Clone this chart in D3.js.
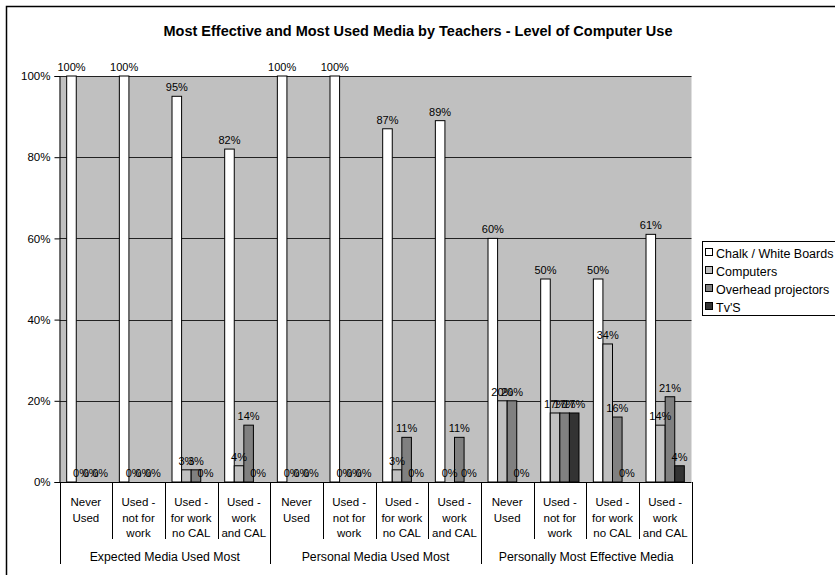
<!DOCTYPE html>
<html>
<head>
<meta charset="utf-8">
<script src="https://cdn.jsdelivr.net/npm/d3@7"></script>
<style>
  html, body { margin: 0; padding: 0; background: #fff; }
  svg { display: block; font-family: "Liberation Sans", Arial, sans-serif; }
</style>
</head>
<body>
<svg id="chart" width="835" height="575"></svg>
<script>
// Survey data: share of teachers per medium, by level of computer use
const groups = ["Expected Media Used Most", "Personal Media Used Most", "Personally Most Effective Media"];
const levels = [["Never", "Used"], ["Used -", "not for", "work"], ["Used -", "for work", "no CAL"], ["Used -", "work", "and CAL"]];
const series = ["Chalk / White Boards", "Computers", "Overhead projectors", "Tv'S"];
const seriesColors = ["#ffffff", "#c0c0c0", "#808080", "#333333"];
const yTicks = [0, 20, 40, 60, 80, 100];

// One value per category (group × level), in the order of the categories
const chalk     = [100, 100, 95, 82, 100, 100, 87, 89, 60, 50, 50, 61];
const computers = [0, 0, 3, 4, 0, 0, 3, 0, 20, 17, 34, 14];
const overhead  = [0, 0, 3, 14, 0, 0, 11, 11, 20, 17, 16, 21];
const tvs       = [0, 0, 0, 0, 0, 0, 0, 0, 0, 17, 0, 4];
const seriesValues = [chalk, computers, overhead, tvs];

const svg = d3.select("#chart");
const W = 835, H = 575;
const plot = { left: 59.5, right: 691.5, top: 76, bottom: 482 };

// Outer chart frame
svg.append("rect").attr("x", 6.5).attr("y", 6.5).attr("width", W).attr("height", H)
  .attr("fill", "#fff").attr("stroke", "#000").attr("stroke-width", 1.5);

// Title
svg.append("text").attr("x", 418).attr("y", 36).attr("text-anchor", "middle")
  .attr("font-size", 14.5).attr("font-weight", "bold").text("Most Effective and Most Used Media by Teachers - Level of Computer Use");

const categories = d3.range(groups.length * levels.length);
const x0 = d3.scaleBand().domain(categories).range([plot.left, plot.right]).padding(0);
const x1 = d3.scaleBand().domain(d3.range(series.length)).range([0, x0.bandwidth()])
  .paddingInner(0).paddingOuter(0.75);
const y = d3.scaleLinear().domain([0, 100]).range([plot.bottom, plot.top]);

// Plot background and gridlines
svg.append("rect").attr("x", plot.left).attr("y", plot.top)
  .attr("width", plot.right - plot.left).attr("height", plot.bottom - plot.top).attr("fill", "#c0c0c0");
svg.append("g").selectAll("line").data(yTicks.filter(t => t > 0)).join("line")
  .attr("x1", plot.left).attr("x2", plot.right)
  .attr("y1", d => Math.round(y(d)) + 0.5).attr("y2", d => Math.round(y(d)) + 0.5)
  .attr("stroke", "#222").attr("stroke-width", 1);

// Bars
const barData = [];
categories.forEach(c => series.forEach((s, si) => barData.push({ c, si, v: seriesValues[si][c] })));
svg.append("g").selectAll("rect").data(barData).join("rect")
  .attr("x", d => x0(d.c) + x1(d.si))
  .attr("y", d => y(d.v))
  .attr("width", x1.bandwidth())
  .attr("height", d => y(0) - y(d.v))
  .attr("fill", d => seriesColors[d.si])
  .attr("stroke", "#000").attr("stroke-width", 1);

// Value labels
svg.append("g").selectAll("text").data(barData).join("text")
  .attr("x", d => x0(d.c) + x1(d.si) + x1.bandwidth() / 2)
  .attr("y", d => y(d.v) - 5)
  .attr("text-anchor", "middle").attr("font-size", 11).attr("fill", "#000")
  .text(d => d.v + "%");

// Y axis
const yAxis = d3.axisLeft(y).tickValues(yTicks).tickFormat(d => d + "%").tickSize(5).tickPadding(4);
const gy = svg.append("g").attr("transform", `translate(${plot.left},0)`).call(yAxis);
gy.select(".domain").attr("stroke", "#000");
gy.selectAll(".tick line").attr("stroke", "#000");
gy.selectAll(".tick text").attr("font-size", 11.5).attr("font-family", "Liberation Sans, Arial, sans-serif").attr("fill", "#000");

// Category axis line
svg.append("line").attr("x1", plot.left).attr("x2", plot.right)
  .attr("y1", plot.bottom + 0.5).attr("y2", plot.bottom + 0.5).attr("stroke", "#000");

// Category separators: short between levels, long between groups
const bounds = d3.range(categories.length + 1);
svg.append("g").selectAll("line").data(bounds).join("line")
  .attr("x1", b => Math.round(plot.left + b * x0.step()) + 0.5)
  .attr("x2", b => Math.round(plot.left + b * x0.step()) + 0.5)
  .attr("y1", plot.bottom)
  .attr("y2", b => (b % levels.length === 0) ? 564 : 539)
  .attr("stroke", "#000");

// Level labels
const lvl = svg.append("g");
categories.forEach(c => {
  const lines = levels[c % levels.length];
  const t = lvl.append("text").attr("text-anchor", "middle").attr("font-size", 11.5)
    .attr("x", x0(c) + x0.bandwidth() / 2);
  lines.forEach((ln, i) => t.append("tspan").attr("x", x0(c) + x0.bandwidth() / 2).attr("y", 506 + i * 15.5).text(ln));
});

// Group labels
svg.append("g").selectAll("text").data(groups).join("text")
  .attr("x", (g, i) => plot.left + (i + 0.5) * levels.length * x0.step())
  .attr("y", 561).attr("text-anchor", "middle").attr("font-size", 12.3).text(g => g);

// Legend
const lg = svg.append("g").attr("transform", "translate(702,241)");
lg.append("rect").attr("x", 0.5).attr("y", 0.5).attr("width", 140).attr("height", 74)
  .attr("fill", "#fff").attr("stroke", "#000");
series.forEach((s, i) => {
  const row = lg.append("g").attr("transform", `translate(0,${12 + i * 18})`);
  row.append("rect").attr("x", 3.5).attr("y", -4.5).attr("width", 7).attr("height", 7)
    .attr("fill", seriesColors[i]).attr("stroke", "#000");
  row.append("text").attr("x", 14).attr("y", 4.5).attr("font-size", 12.5).text(s);
});
</script>
</body>
</html>
